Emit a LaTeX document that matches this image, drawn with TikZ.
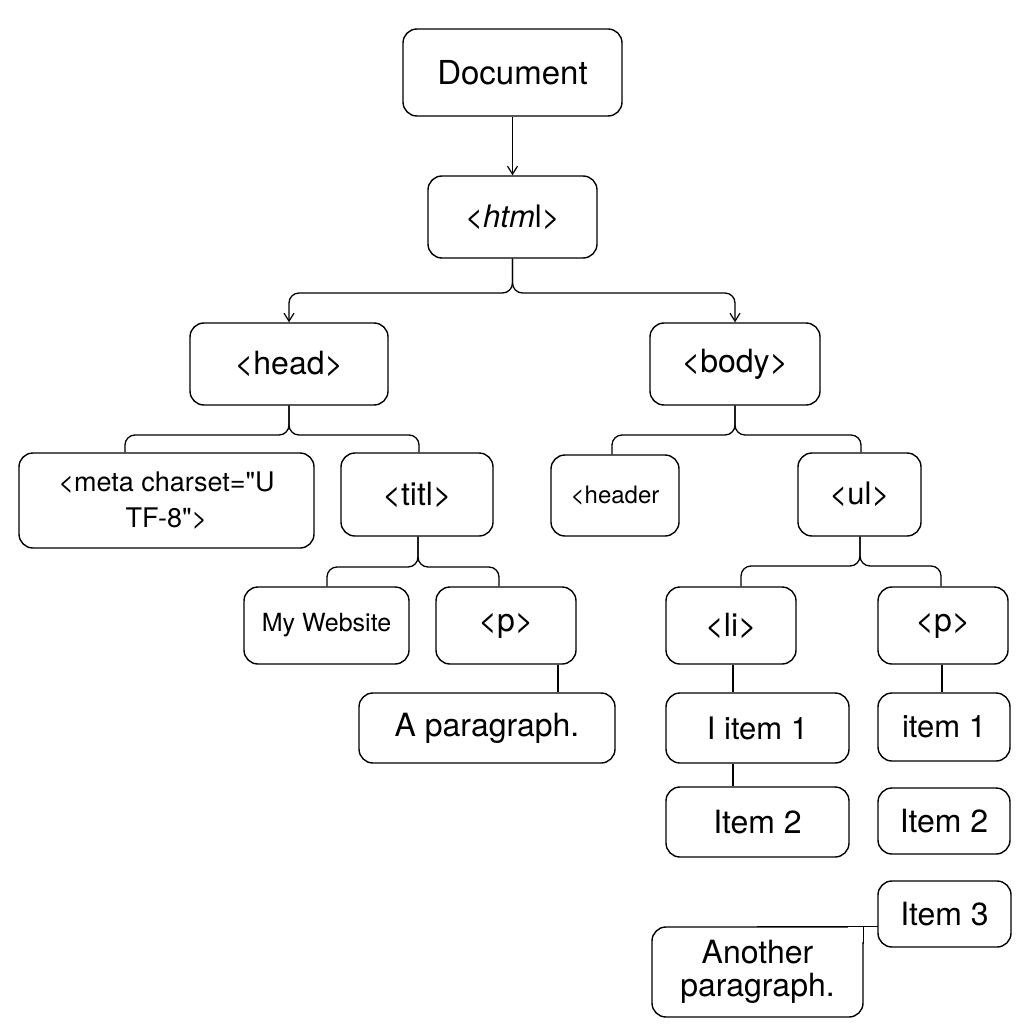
\documentclass[tikz,border=0pt]{standalone}
\usepackage{fontspec}
\setmainfont{TeX Gyre Heros}[Ligatures=TeXOff]
\usetikzlibrary{arrows.meta}
\tikzset{
  box/.style={draw, line width=1.4pt, rounded corners=14pt, align=center, inner sep=0pt},
  link/.style={line width=1.3pt, rounded corners=10pt},
  arr/.style={link, -{Straight Barb[length=8pt,width=10pt,line width=1.2pt]}},
}
\begin{document}
\begin{tikzpicture}[x=1pt,y=-1pt]
\useasboundingbox[fill=white] (0,0) rectangle (1024,1024);
% nodes
\node[box, minimum width=219pt, minimum height=87pt, font=\fontsize{33}{36}\selectfont] (doc) at (512.5,72.5) {Document};
\node[box, minimum width=169pt, minimum height=82pt, font=\fontsize{31}{34}\selectfont] (html) at (512.5,217) {<\textit{htm}l>};
\node[box, minimum width=198pt, minimum height=82pt, font=\fontsize{32}{34}\selectfont] (head) at (289,364) {<head>};
\node[box, minimum width=170pt, minimum height=82pt, font=\fontsize{32}{34}\selectfont] (body) at (735,364) {<body>};
\node[box, minimum width=295pt, minimum height=95pt, font=\fontsize{27}{36}\selectfont] (meta) at (166.5,500.5) {<meta charset="U\\TF-8">};
\node[box, minimum width=152pt, minimum height=83pt, font=\fontsize{32}{34}\selectfont] (titl) at (417,494.5) {<titl>};
\node[box, minimum width=128pt, minimum height=81pt, font=\fontsize{24}{26}\selectfont] (header) at (615,495.5) {<header};
\node[box, minimum width=123pt, minimum height=83pt, font=\fontsize{31}{34}\selectfont] (ul) at (859.5,494.5) {<ul>};
\node[box, minimum width=165pt, minimum height=77pt, font=\fontsize{25}{28}\selectfont] (myweb) at (326.5,625.5) {My Website};
\node[box, minimum width=140pt, minimum height=77pt, font=\fontsize{32}{34}\selectfont] (p1) at (506,625.5) {<p>};
\node[box, minimum width=256pt, minimum height=70pt, font=\fontsize{32}{34}\selectfont] (apara) at (487,728) {A paragraph.};
\node[box, minimum width=130pt, minimum height=77pt, font=\fontsize{32}{34}\selectfont] (li) at (731,625.5) {<li>};
\node[box, minimum width=130pt, minimum height=77pt, font=\fontsize{32}{34}\selectfont] (p2) at (943,625.5) {<p>};
\node[box, minimum width=183pt, minimum height=70pt, font=\fontsize{31}{34}\selectfont] (li1) at (757.5,728) {I item 1};
\node[box, minimum width=183pt, minimum height=70pt, font=\fontsize{32}{34}\selectfont] (li2) at (757.5,822) {Item 2};
\node[box, minimum width=132pt, minimum height=68pt, font=\fontsize{31}{34}\selectfont] (pi1) at (944,727) {item 1};
\node[box, minimum width=132pt, minimum height=66pt, font=\fontsize{32}{34}\selectfont] (pi2) at (944,821) {Item 2};
\node[box, minimum width=133pt, minimum height=66pt, font=\fontsize{32}{34}\selectfont] (pi3) at (944.5,914) {Item 3};
\node[box, minimum width=211pt, minimum height=90pt, font=\fontsize{32}{33}\selectfont] (another) at (757.5,972) {Another\\paragraph.};
% helper coordinates (x positions and branch levels)
\coordinate (m1) at (0,293);
\coordinate (m2) at (0,435);
\coordinate (m3) at (0,567);
\coordinate (m4) at (0,566);
\coordinate (xmeta) at (125,0);
\coordinate (xtitl) at (419,0);
\coordinate (xtitlc) at (418,0);
\coordinate (xheader) at (612,0);
\coordinate (xul) at (861,0);
\coordinate (xulc) at (860,0);
\coordinate (xmy) at (327,0);
\coordinate (xp1) at (499,0);
\coordinate (xli) at (741,0);
\coordinate (xp2) at (941,0);
\coordinate (xpa) at (558,0);
\coordinate (xlic) at (733,0);
\coordinate (xp2c) at (942,0);
% connectors
\draw[arr] (doc) -- (html);
\draw[arr] (html.south) -- (html.south |- m1) -- (head.north |- m1) -- (head.north);
\draw[arr] (html.south) -- (html.south |- m1) -- (body.north |- m1) -- (body.north);
\draw[link] (head.south) -- (head.south |- m2) -- (xmeta |- m2) -- (meta.north -| xmeta);
\draw[link] (head.south) -- (head.south |- m2) -- (xtitl |- m2) -- (titl.north -| xtitl);
\draw[link] (body.south) -- (body.south |- m2) -- (xheader |- m2) -- (header.north -| xheader);
\draw[link] (body.south) -- (body.south |- m2) -- (xul |- m2) -- (ul.north -| xul);
\draw[link] (titl.south -| xtitlc) -- (xtitlc |- m3) -- (xmy |- m3) -- (myweb.north -| xmy);
\draw[link] (titl.south -| xtitlc) -- (xtitlc |- m3) -- (xp1 |- m3) -- (p1.north -| xp1);
\draw[link] (ul.south -| xulc) -- (xulc |- m4) -- (xli |- m4) -- (li.north -| xli);
\draw[link] (ul.south -| xulc) -- (xulc |- m4) -- (xp2 |- m4) -- (p2.north -| xp2);
\draw[link] (p1.south -| xpa) -- (apara.north -| xpa);
\draw[link] (li.south -| xlic) -- (li1.north -| xlic);
\draw[link] (li1.south -| xlic) -- (li2.north -| xlic);
\draw[link] (p2.south -| xp2c) -- (pi1.north -| xp2c);
% square top-right corner of "Another paragraph." joined to Item 3
\fill[white] ([xshift=-15.5pt,yshift=-15.5pt]another.north east) rectangle ([xshift=1pt,yshift=1pt]another.north east);
\draw[line width=1.4pt, line cap=rect] (another.north) -- (pi3.west |- another.north);
\draw[line width=1.4pt, line cap=rect] (another.north east) -- ([yshift=-17pt]another.north east);
\end{tikzpicture}
\end{document}
